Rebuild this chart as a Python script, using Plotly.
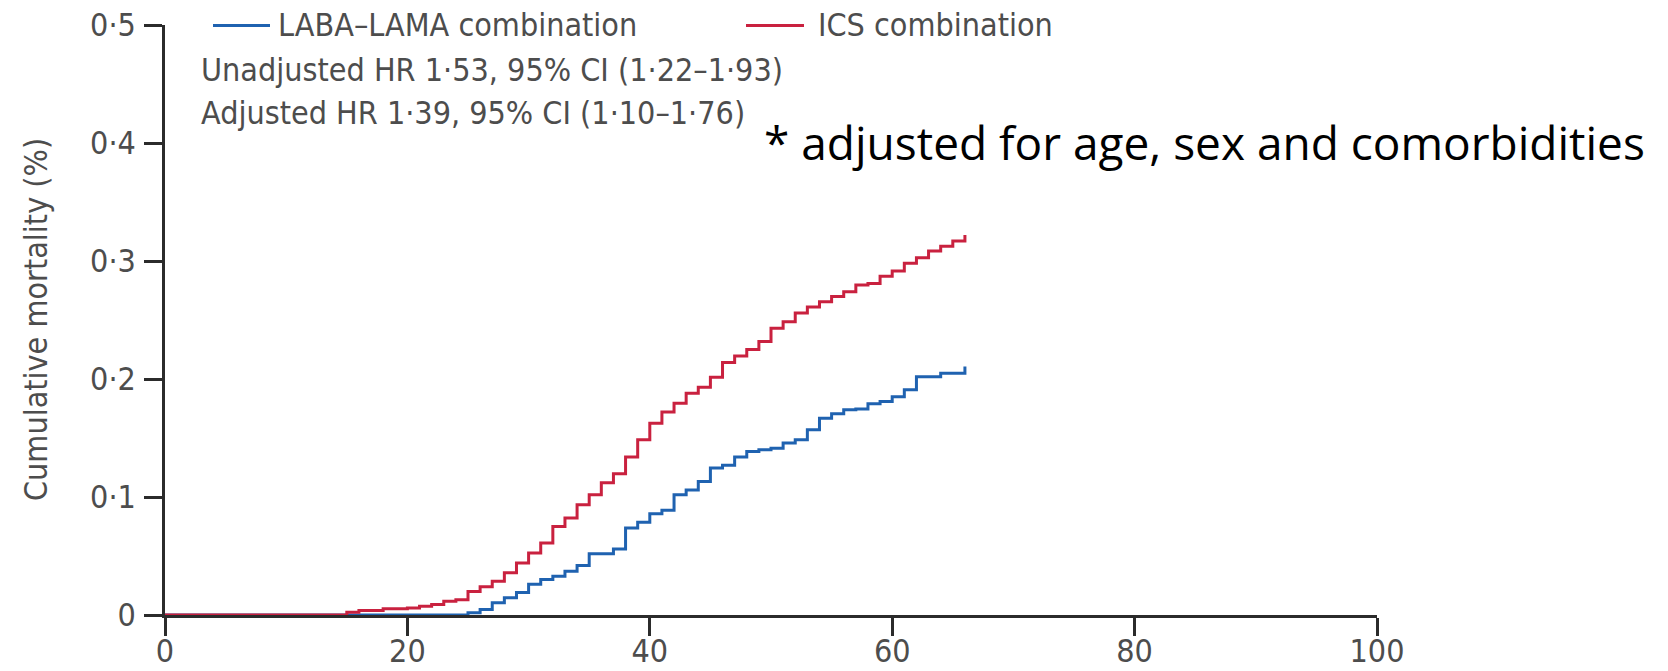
import plotly.graph_objects as go

# Kaplan-Meier style cumulative mortality (%) by month of follow-up
laba_lama_t = [0, 25, 26, 27, 28, 29, 30, 31, 32, 33, 34, 35, 37, 38, 39, 40, 41, 42, 43, 44,
               45, 46, 47, 48, 49, 50, 51, 52, 53, 54, 55, 56, 57, 58, 59, 60, 61, 62, 64, 66]
laba_lama_v = [0, 0.002, 0.0047, 0.0103, 0.0146, 0.019, 0.026, 0.030, 0.0328, 0.037, 0.042,
               0.052, 0.056, 0.0738, 0.0785, 0.0859, 0.0887, 0.102, 0.106, 0.1132, 0.1245,
               0.127, 0.134, 0.1386, 0.140, 0.1414, 0.1457, 0.1485, 0.157, 0.1668, 0.1705,
               0.174, 0.1745, 0.179, 0.181, 0.185, 0.1908, 0.202, 0.2049, 0.2105]

ics_t = [0, 15, 16, 18, 20, 21, 22, 23, 24, 25, 26, 27, 28, 29, 30, 31, 32, 33, 34, 35, 36,
         37, 38, 39, 40, 41, 42, 43, 44, 45, 46, 47, 48, 49, 50, 51, 52, 53, 54, 55, 56, 57,
         58, 59, 60, 61, 62, 63, 64, 65, 66]
ics_v = [0, 0.0024, 0.0038, 0.0052, 0.006, 0.0075, 0.009, 0.0117, 0.013, 0.020, 0.024,
         0.0286, 0.0357, 0.044, 0.0526, 0.061, 0.075, 0.0822, 0.0935, 0.102, 0.112, 0.1197,
         0.134, 0.1485, 0.1626, 0.172, 0.1795, 0.188, 0.193, 0.2015, 0.214, 0.2195, 0.225,
         0.2317, 0.243, 0.2486, 0.256, 0.261, 0.2655, 0.270, 0.274, 0.2796, 0.281, 0.287,
         0.2915, 0.298, 0.3027, 0.3084, 0.3126, 0.317, 0.322]

x_ticks = [0, 20, 40, 60, 80, 100]
x_tick_labels = ["0", "20", "40", "60", "80", "100"]
y_ticks = [0, 0.1, 0.2, 0.3, 0.4, 0.5]
y_tick_labels = ["0", "0·1", "0·2", "0·3", "0·4", "0·5"]

series_names = ["LABA–LAMA combination", "ICS combination"]
hr_lines = ["Unadjusted HR 1·53, 95% CI (1·22–1·93)",
            "Adjusted HR 1·39, 95% CI (1·10–1·76)"]
footnote = "* adjusted for age, sex and comorbidities"

BLUE = "#1f62b0"
RED = "#c9213f"
TEXT = "#4d4d4d"
AXIS = "#2b2b2b"
NARROW = "Liberation Sans Narrow, DejaVu Sans Condensed, Roboto, sans-serif"

fig = go.Figure()
fig.add_trace(go.Scatter(x=laba_lama_t, y=laba_lama_v, mode="lines",
                         line=dict(shape="hv", color=BLUE, width=3),
                         name=series_names[0], showlegend=False))
fig.add_trace(go.Scatter(x=ics_t, y=ics_v, mode="lines",
                         line=dict(shape="hv", color=RED, width=3),
                         name=series_names[1], showlegend=False))

W, H = 1668, 671
L, R, T, B = 165, 291, 24.5, 55.5
pw, ph = W - L - R, H - T - B


def px(x):
    return (x - L) / pw


def py(y):
    return (H - B - y) / ph


# legend samples and labels
fig.add_shape(type="line", xref="paper", yref="paper", x0=px(213), x1=px(270),
              y0=py(25), y1=py(25), line=dict(color=BLUE, width=3))
fig.add_shape(type="line", xref="paper", yref="paper", x0=px(746), x1=px(804),
              y0=py(25), y1=py(25), line=dict(color=RED, width=3))

annots = [
    dict(text=series_names[0], x=px(276), y=py(24)),
    dict(text=series_names[1], x=px(816), y=py(24)),
    dict(text=hr_lines[0], x=px(199), y=py(70)),
    dict(text=hr_lines[1], x=px(199), y=py(113)),
]
for a in annots:
    fig.add_annotation(xref="paper", yref="paper", xanchor="left", yanchor="middle",
                       showarrow=False, font=dict(family=NARROW, size=32, color=TEXT), **a)

fig.add_annotation(text=footnote, xref="paper", yref="paper", x=px(762), y=py(142),
                   xanchor="left", yanchor="middle", showarrow=False,
                   font=dict(family="Open Sans, Noto Sans CJK KR", size=46, color="#000000"))

fig.add_annotation(text="Cumulative mortality (%)", xref="paper", yref="paper",
                   x=px(36), y=py(320), textangle=-90, xanchor="center", yanchor="middle",
                   showarrow=False, font=dict(family=NARROW, size=32, color=TEXT))

fig.update_layout(
    width=W, height=H,
    margin=dict(l=L, r=R, t=T, b=B, pad=0),
    paper_bgcolor="white", plot_bgcolor="white",
    showlegend=False,
    xaxis=dict(range=[0, 100], tickvals=x_ticks, ticktext=x_tick_labels, automargin=False,
               showgrid=False, zeroline=False, showline=True, linecolor=AXIS, linewidth=3,
               ticks="outside", ticklen=18, tickwidth=2.5, tickcolor=AXIS,
               tickfont=dict(family=NARROW, size=32, color=TEXT), layer="below traces",
               ticklabelstandoff=-12),
    yaxis=dict(range=[0, 0.5], tickvals=y_ticks, ticktext=y_tick_labels, automargin=False,
               showgrid=False, zeroline=False, showline=True, linecolor=AXIS, linewidth=2.5,
               ticks="outside", ticklen=18, tickwidth=2.5, tickcolor=AXIS,
               tickfont=dict(family=NARROW, size=32, color=TEXT), layer="below traces",
               ticklabelstandoff=2),
)

fig.write_html("out.html")
